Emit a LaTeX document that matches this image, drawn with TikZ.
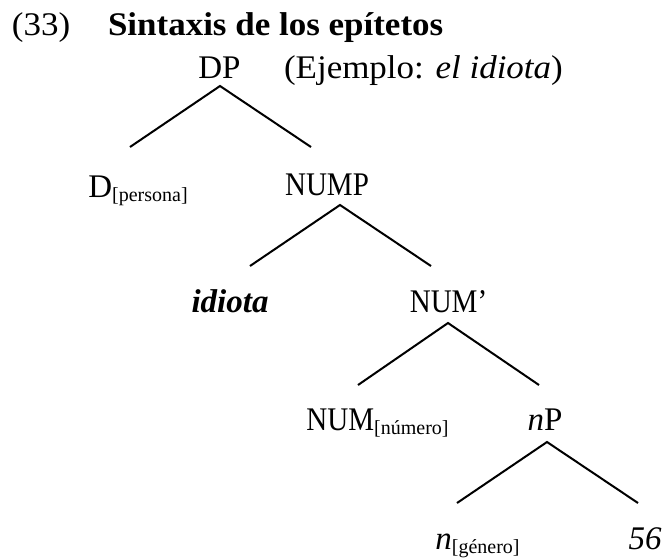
\documentclass[tikz,border=0pt]{standalone}
\usepackage{fontspec}
\setmainfont{Liberation Serif}
\newfontfamily\widefont[FakeStretch=1.06]{Liberation Serif}
\newfontfamily\narrowfont[FakeStretch=0.88]{Liberation Serif}
\newcommand\mysubtxt[1]{\raisebox{-4.5pt}{\fontsize{20}{24}\selectfont #1}}
\tikzset{
  lbl/.style={inner sep=0pt, outer sep=0pt, anchor=base, font=\fontsize{33}{40}\selectfont},
  lblw/.style={lbl, anchor=base west},
  branch/.style={line width=2pt, line cap=butt}
}
\begin{document}
\begin{tikzpicture}[x=1pt,y=-1pt]
\useasboundingbox (0,0) rectangle (668,558);
% header
\node[lblw] (ex) at (12,35) {\widefont (33)};
\node[lblw] (title) at (108,35) {\widefont\bfseries Sintaxis de los epítetos};
% tree nodes
\node[lbl] (DP) at (219.5,78) {DP};
\node[lblw] (ejemplo) at (284,78) {\widefont (Ejemplo: \textit{el idiota})};
\node[lbl] (D) at (138,197) {D\mysubtxt{[persona]}};
\node[lbl] (NUMP) at (327,195) {\narrowfont NUMP};
\node[lbl] (idiota) at (230,312) {\textbf{\textit{idiota}}};
\node[lbl] (NUMbar) at (448.5,312) {\narrowfont NUM’};
\node[lbl] (NUM) at (377.5,430) {{\narrowfont NUM}\mysubtxt{[número]}};
\node[lbl] (nP) at (545,430) {\textit{n}P};
\node[lbl] (n) at (477.5,549) {\textit{n}\mysubtxt{[género]}};
\node[lbl] (fs) at (645,549) {\textit{56}};
% branch end points
\coordinate (DP-a) at (220,86);
\coordinate (D-t) at (130,147);
\coordinate (NUMP-t) at (311,147);
\coordinate (NUMP-a) at (340,205);
\coordinate (idiota-t) at (250,266);
\coordinate (NUMbar-t) at (431,266);
\coordinate (NUMbar-a) at (448,323);
\coordinate (NUM-t) at (358,385);
\coordinate (nP-t) at (539,385);
\coordinate (nP-a) at (547,442);
\coordinate (n-t) at (457,503);
\coordinate (fs-t) at (638,503);
% branches
\draw[branch] (D-t) -- (DP-a) -- (NUMP-t);
\draw[branch] (idiota-t) -- (NUMP-a) -- (NUMbar-t);
\draw[branch] (NUM-t) -- (NUMbar-a) -- (nP-t);
\draw[branch] (n-t) -- (nP-a) -- (fs-t);
\end{tikzpicture}
\end{document}
